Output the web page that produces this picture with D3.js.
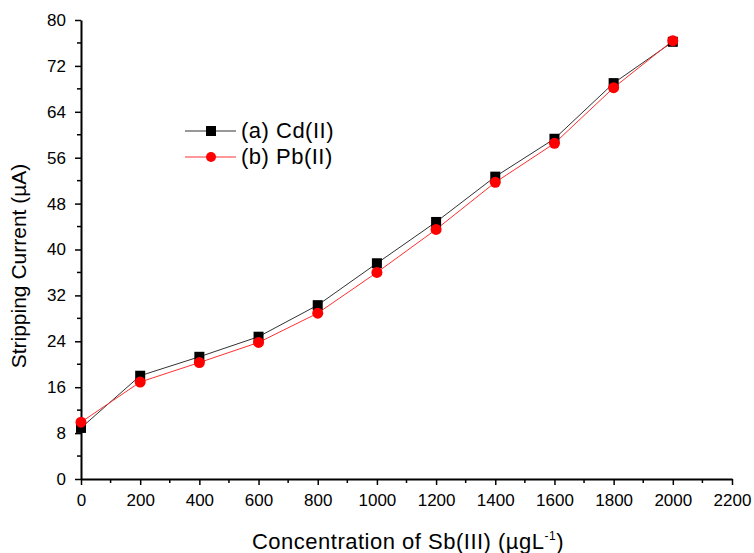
<!DOCTYPE html>
<html>
<head>
<meta charset="utf-8">
<script src="https://cdn.jsdelivr.net/npm/d3@7"></script>
<style>
  body { margin: 0; background: #fff; }
  svg text { font-family: "Liberation Sans", Arial, sans-serif; fill: #000; }
</style>
</head>
<body>
<svg width="754" height="553"></svg>
<script>
// data
var concentration = [0, 200, 400, 600, 800, 1000, 1200, 1400, 1600, 1800, 2000]
var cdCurrent = [8.9, 18.0, 21.3, 24.8, 30.3, 37.6, 44.8, 52.7, 59.3, 69.0, 76.2]
var pbCurrent = [9.9, 16.9, 20.3, 23.8, 28.9, 36.0, 43.5, 51.7, 58.5, 68.2, 76.4]
var xTicks = d3.range(0, 2201, 200)
var yTicks = d3.range(0, 81, 8)
var seriesNames = ['(a) Cd(II)', '(b) Pb(II)']

var svg = d3.select('svg')
var mLeft = 81, mRight = 732, mTop = 20, mBottom = 479

var x = d3.scaleLinear().domain([0, 2200]).range([mLeft, mRight])
var y = d3.scaleLinear().domain([0, 80]).range([mBottom, mTop])

// axes
var xAxis = d3.axisBottom(x).tickValues(xTicks).tickFormat(d3.format('d'))
    .tickSize(6).tickSizeOuter(0).tickPadding(9)
var yAxis = d3.axisLeft(y).tickValues(yTicks).tickFormat(d3.format('d'))
    .tickSize(6).tickSizeOuter(0).tickPadding(9)

var gx = svg.append('g').attr('transform', 'translate(0,' + mBottom + ')').call(xAxis)
var gy = svg.append('g').attr('transform', 'translate(' + mLeft + ',0)').call(yAxis)

// minor ticks
gx.selectAll('.minor').data(d3.range(100, 2200, 200)).enter()
    .append('line')
    .attr('x1', function(d) { return x(d) }).attr('x2', function(d) { return x(d) })
    .attr('y1', 0).attr('y2', 4)
    .attr('stroke', '#000').attr('stroke-width', 1.5)
gy.selectAll('.minor').data(d3.range(4, 80, 8)).enter()
    .append('line')
    .attr('y1', function(d) { return y(d) }).attr('y2', function(d) { return y(d) })
    .attr('x1', 0).attr('x2', -4)
    .attr('stroke', '#000').attr('stroke-width', 1.5)

;[gx, gy].forEach(function(g) {
    g.select('.domain').attr('stroke', '#000').attr('stroke-width', 2)
    g.selectAll('.tick line').attr('stroke', '#000').attr('stroke-width', 1.5)
    g.selectAll('.tick text').style('font-size', '17px').style('font-family', '"Liberation Sans", Arial, sans-serif').attr('fill', '#000')
})

// axis titles
svg.append('text')
    .attr('x', 408).attr('y', 549)
    .attr('text-anchor', 'middle')
    .style('font-size', '22px')
    .style('letter-spacing', '0.5px')
    .html('Concentration of Sb(III) (\u00b5gL<tspan dy="-9" font-size="12">-1</tspan><tspan dy="9">)</tspan>')

svg.append('text')
    .attr('transform', 'translate(26,266) rotate(-90)')
    .attr('text-anchor', 'middle')
    .style('font-size', '21px')
    .text('Stripping Current (\u00b5A)')

// lines
var line = d3.line()
    .x(function(d) { return x(d[0]) })
    .y(function(d) { return y(d[1]) })

var cdPts = concentration.map(function(c, i) { return [c, cdCurrent[i]] })
var pbPts = concentration.map(function(c, i) { return [c, pbCurrent[i]] })

svg.append('path').attr('d', line(cdPts))
    .attr('fill', 'none').attr('stroke', '#333').attr('stroke-width', 1)
svg.append('path').attr('d', line(pbPts))
    .attr('fill', 'none').attr('stroke', '#ff3030').attr('stroke-width', 1)

svg.selectAll('.sq').data(cdPts).enter().append('rect')
    .attr('x', function(d) { return x(d[0]) - 5 })
    .attr('y', function(d) { return y(d[1]) - 5 })
    .attr('width', 10).attr('height', 10)
    .attr('fill', '#000')
svg.selectAll('.ci').data(pbPts).enter().append('circle')
    .attr('cx', function(d) { return x(d[0]) })
    .attr('cy', function(d) { return y(d[1]) })
    .attr('r', 5.5)
    .attr('fill', '#ff0000')

// legend
var legend = svg.append('g')
seriesNames.forEach(function(name, i) {
    var ly = 131 + i * 26
    legend.append('line')
        .attr('x1', 185).attr('x2', 236).attr('y1', ly).attr('y2', ly)
        .attr('stroke', i == 0 ? '#333' : '#ff3030').attr('stroke-width', 1)
    if (i == 0)
        legend.append('rect').attr('x', 206).attr('y', ly - 5).attr('width', 10).attr('height', 10).attr('fill', '#000')
    else
        legend.append('circle').attr('cx', 211).attr('cy', ly).attr('r', 5).attr('fill', '#ff0000')
    legend.append('text')
        .attr('x', 241).attr('y', ly + 7)
        .style('font-size', '22px')
        .style('letter-spacing', '0.5px')
        .text(name)
})
</script>
</body>
</html>
